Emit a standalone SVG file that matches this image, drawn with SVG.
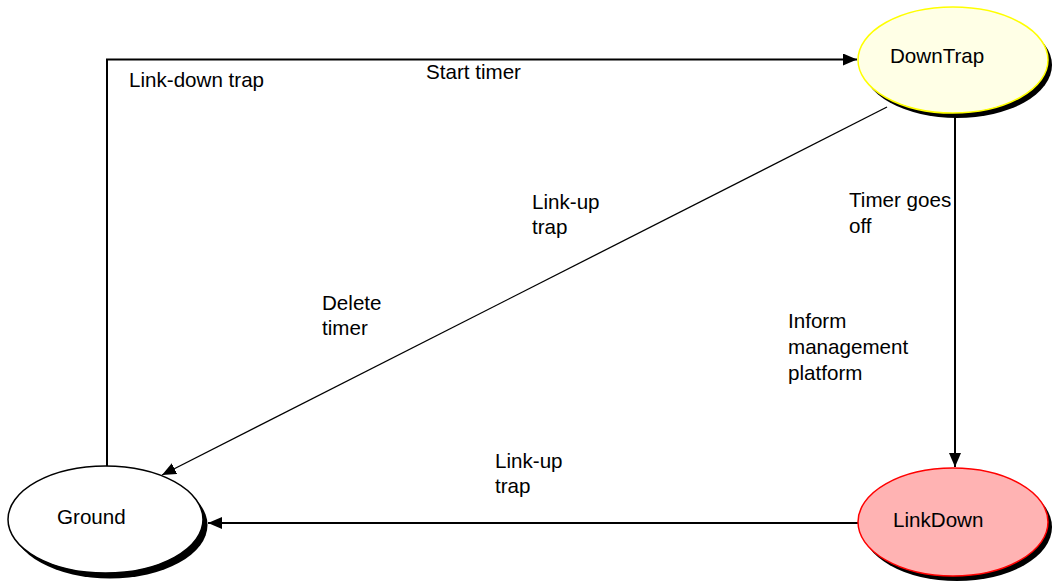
<svg xmlns="http://www.w3.org/2000/svg" width="1054" height="582" viewBox="0 0 1054 582">
<style>
text{font-family:"Liberation Sans",Arial,sans-serif;font-size:20.6px;fill:#000}
.ln{fill:none;stroke:#000;stroke-width:2}
.shadow{fill:#000}
</style>
<defs>
<marker id="ah" viewBox="0 0 14 12" refX="14" refY="6" markerWidth="14" markerHeight="12" markerUnits="userSpaceOnUse" orient="auto">
<path d="M0,0 L14,6 L0,12 Z" fill="#000"/>
</marker>
</defs>
<rect width="1054" height="582" fill="#fff"/>
<g id="connectors">
<path class="ln" d="M107,466 L107,59.5 L857,59.5" marker-end="url(#ah)"/>
<path class="ln" d="M955,113 L955,467" marker-end="url(#ah)"/>
<path class="ln" d="M858,523 L208,523" marker-end="url(#ah)"/>
<path class="ln" style="stroke-width:1.3" d="M887,107 L162,475" marker-end="url(#ah)"/>
</g>
<g id="labels">
<text x="129" y="87">Link-down trap</text>
<text x="426" y="79">Start timer</text>
<text x="532" y="209">Link-up</text>
<text x="532" y="234">trap</text>
<text x="322" y="310">Delete</text>
<text x="322" y="335">timer</text>
<text x="849" y="207">Timer goes</text>
<text x="849" y="233">off</text>
<text x="788" y="328">Inform</text>
<text x="788" y="354">management</text>
<text x="788" y="380">platform</text>
<text x="495" y="468">Link-up</text>
<text x="495" y="493">trap</text>
</g>
<g id="DownTrap">
<ellipse class="shadow" cx="957" cy="65" rx="95" ry="53"/>
<ellipse cx="953" cy="60" rx="95" ry="53" fill="#FFFFE6" stroke="#FFFF00" stroke-width="1.5"/>
<text x="890" y="63">DownTrap</text>
</g>
<g id="LinkDown">
<ellipse class="shadow" cx="957" cy="527" rx="95" ry="54"/>
<ellipse cx="953" cy="522" rx="95" ry="54" fill="#FFB3B3" stroke="#FF0000" stroke-width="1.5"/>
<text x="893" y="527">LinkDown</text>
</g>
<g id="Ground">
<ellipse class="shadow" cx="110" cy="525" rx="97.5" ry="53.5"/>
<ellipse cx="105.5" cy="519.5" rx="97.5" ry="53.5" fill="#fff" stroke="#000" stroke-width="1.5"/>
<text x="57" y="524">Ground</text>
</g>
</svg>
